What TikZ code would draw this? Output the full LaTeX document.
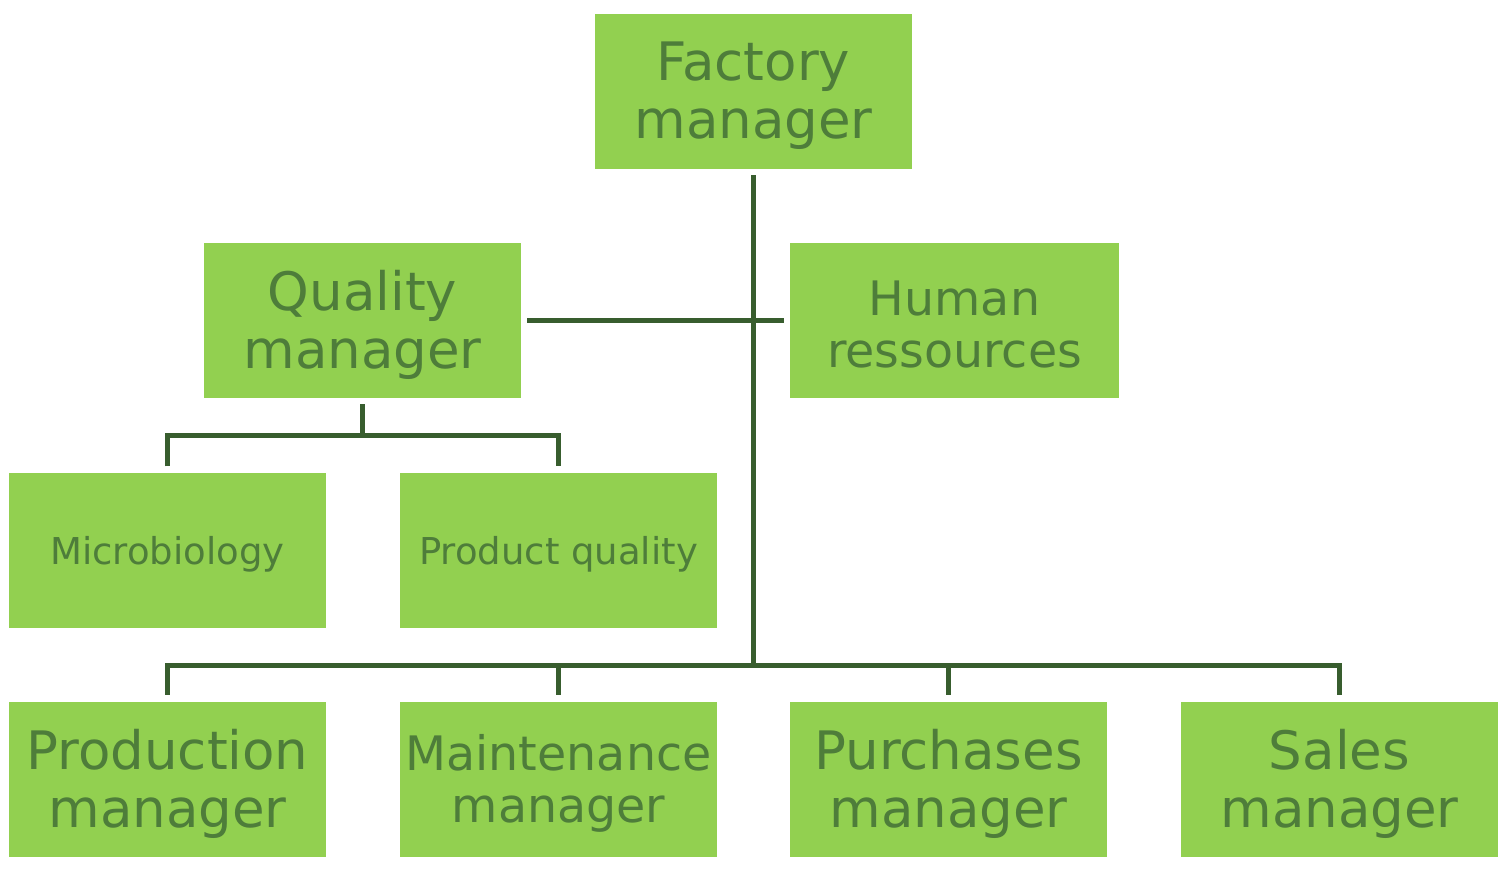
\documentclass[tikz,border=0pt]{standalone}
\usepackage{fontspec}
\setmainfont{DejaVu Sans}
\definecolor{boxfill}{HTML}{92D050}
\definecolor{boxtext}{HTML}{4E7D3A}
\definecolor{linec}{HTML}{385D2E}
\tikzset{
  orgbox/.style={fill=boxfill, draw=none, inner sep=0pt, minimum width=#1, minimum height=155pt},
  orgbox/.default=317pt,
  txt/.style={align=center, text=boxtext, inner sep=0pt, yshift=-4pt},
  big/.style={txt, font=\fontsize{53}{58}\selectfont},
  mid/.style={txt, font=\fontsize{47.5}{52}\selectfont},
  small/.style={txt, font=\fontsize{37}{42}\selectfont},
  conn/.style={draw=linec, line width=5pt}
}
\begin{document}
\begin{tikzpicture}[x=1pt,y=-1pt]
\useasboundingbox (0,0) rectangle (1510,872);
\node[orgbox, label={[big]center:Factory\\manager}] (fm) at (753.5,91.5) {};
\node[orgbox, label={[big]center:Quality\\manager}] (qm) at (362.5,320.5) {};
\node[orgbox=329pt, label={[mid]center:Human\\ressources}] (hr) at (954.5,320.5) {};
\node[orgbox, label={[small]center:Microbiology}] (mb) at (167.5,550) {};
\node[orgbox, label={[small]center:Product quality}] (pq) at (558.5,550) {};
\node[orgbox, label={[big]center:Production\\manager}] (pm) at (167.5,779.5) {};
\node[orgbox, label={[mid]center:Maintenance\\manager}] (mm) at (558.5,779.5) {};
\node[orgbox, label={[big]center:Purchases\\manager}] (pu) at (948.5,779.5) {};
\node[orgbox, label={[big]center:Sales\\manager}] (sm) at (1339.5,779.5) {};
% trunk
\coordinate (bus) at (753.5,665);
\draw[conn] ([yshift=-6pt]fm.south) -- (bus);
\draw[conn] ([xshift=6pt]qm.east) -- ([xshift=-6pt]hr.west);
% quality sub-tree
\coordinate (qbus) at (362.5,435);
\draw[conn] ([yshift=-6pt]qm.south) -- (qbus);
\draw[conn] ([yshift=6pt]mb.north) |- (qbus) -| ([yshift=6pt]pq.north);
% bottom bus
\draw[conn] ([yshift=7pt]pm.north) |- (bus) -| ([yshift=7pt]sm.north);
\draw[conn] ([yshift=7pt]mm.north) -- (mm.north |- bus);
\draw[conn] ([yshift=7pt]pu.north) -- (pu.north |- bus);
\end{tikzpicture}
\end{document}
